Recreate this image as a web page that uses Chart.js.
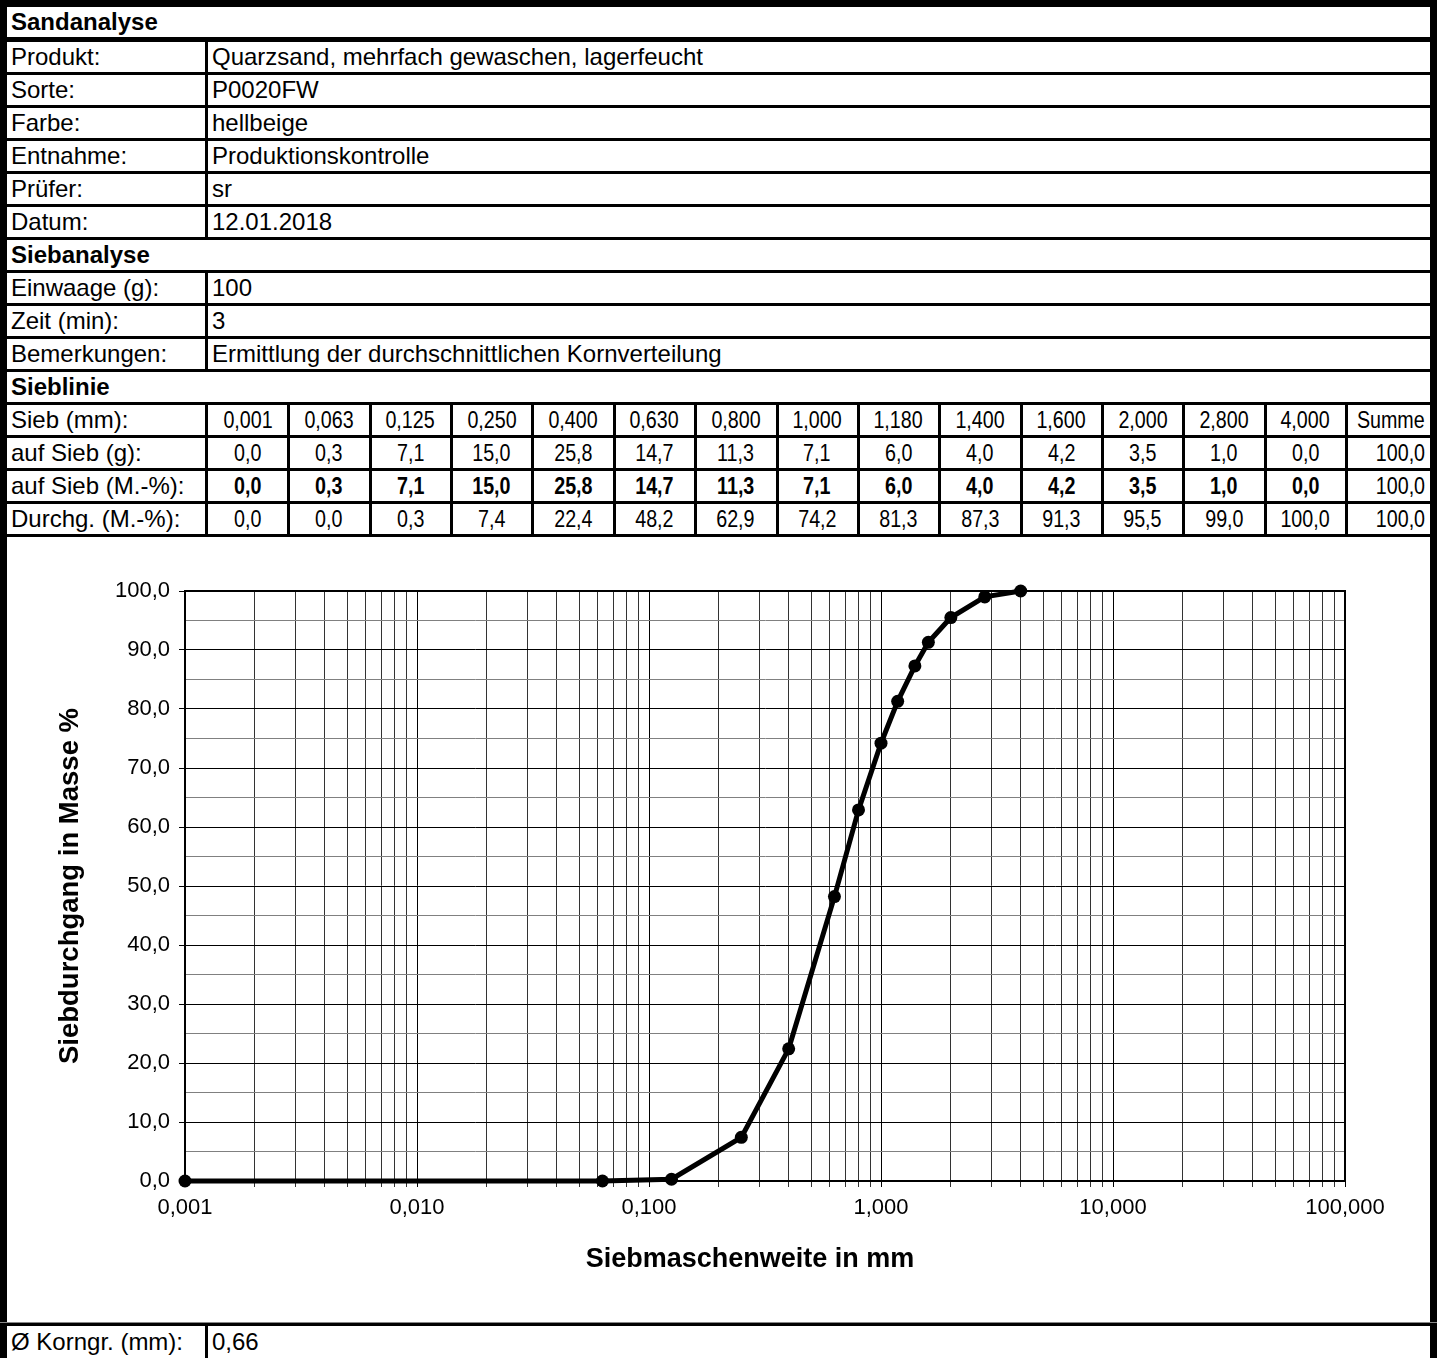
<!DOCTYPE html>
<html><head><meta charset="utf-8">
<script src="https://cdn.jsdelivr.net/npm/chart.js@4"></script>
<style>
body{margin:0;background:#fff;}
#page{position:relative;width:1442px;height:1358px;overflow:hidden;font-family:"Liberation Sans",Arial,sans-serif;font-size:24px;color:#000;background:#fff;}
.ln{position:absolute;background:#000;}
.t{position:absolute;white-space:nowrap;line-height:30px;height:30px;overflow:visible;}
.b{font-weight:bold;}
.n{text-align:center;}
.r{text-align:right;}
.n span{display:inline-block;transform:scaleX(0.82);transform-origin:center center;}
.r span{display:inline-block;transform:scaleX(0.82);transform-origin:right center;}
#chartBox{position:absolute;left:7px;top:537px;width:1423px;height:786px;}
</style></head>
<body><div id="page"><div id="chartBox"><canvas id="c" width="1423" height="786"></canvas></div></div>
<script>
// ---- data ----
const infoLabels = ["Produkt:", "Sorte:", "Farbe:", "Entnahme:", "Prüfer:", "Datum:"];
const infoValues = ["Quarzsand, mehrfach gewaschen, lagerfeucht", "P0020FW", "hellbeige", "Produktionskontrolle", "sr", "12.01.2018"];
const sieveInfoLabels = ["Einwaage (g):", "Zeit (min):", "Bemerkungen:"];
const sieveInfoValues = ["100", "3", "Ermittlung der durchschnittlichen Kornverteilung"];
const sieveLabels = ["0,001","0,063","0,125","0,250","0,400","0,630","0,800","1,000","1,180","1,400","1,600","2,000","2,800","4,000"];
const sieveSizes = [0.001, 0.063, 0.125, 0.250, 0.400, 0.630, 0.800, 1.000, 1.180, 1.400, 1.600, 2.000, 2.800, 4.000];
const retainedG = [0.0, 0.3, 7.1, 15.0, 25.8, 14.7, 11.3, 7.1, 6.0, 4.0, 4.2, 3.5, 1.0, 0.0];
const retainedPct = [0.0, 0.3, 7.1, 15.0, 25.8, 14.7, 11.3, 7.1, 6.0, 4.0, 4.2, 3.5, 1.0, 0.0];
const passing = [0.0, 0.0, 0.3, 7.4, 22.4, 48.2, 62.9, 74.2, 81.3, 87.3, 91.3, 95.5, 99.0, 100.0];
const sumG = 100.0, sumPct = 100.0, sumPassing = 100.0;
const meanGrain = "0,66";
const xMajorTicks = [0.001, 0.01, 0.1, 1, 10, 100];
const xTickLabels = ["0,001", "0,010", "0,100", "1,000", "10,000", "100,000"];
const yMajorTicks = [0, 10, 20, 30, 40, 50, 60, 70, 80, 90, 100];
const yTickLabels = ["0,0", "10,0", "20,0", "30,0", "40,0", "50,0", "60,0", "70,0", "80,0", "90,0", "100,0"];

// ---- table layout ----
const page = document.getElementById('page');
const fmt1 = v => v.toFixed(1).replace('.', ',');
function line(x, y, w, h, col) {
  const d = document.createElement('div'); d.className = 'ln';
  d.style.left = x + 'px'; d.style.top = y + 'px'; d.style.width = w + 'px'; d.style.height = h + 'px';
  if (col) d.style.background = col;
  page.appendChild(d);
}
function text(str, x, y, w, cls) {
  const d = document.createElement('div'); d.className = 't ' + (cls || '');
  d.style.left = x + 'px'; d.style.top = y + 'px';
  if (w) d.style.width = w + 'px';
  if (cls && /(^| )(n|r)( |$)/.test(cls)) { const s = document.createElement('span'); s.textContent = str; d.appendChild(s); }
  else d.textContent = str;
  page.appendChild(d);
}
const L = 7, R = 1430;
const rowTop = i => i === 0 ? 7 : 42 + 33 * (i - 1);
line(0, 0, 7, 1358); line(R, 0, 7, 1358); line(0, 0, 1437, 7);
const headerRows = {0: 'Sandanalyse', 7: 'Siebanalyse', 11: 'Sieblinie'};
for (let i = 0; i < 16; i++) {
  const y = rowTop(i);
  line(0, y + 30, 1437, i === 0 ? 5 : 3);
  if (headerRows[i] !== undefined) { text(headerRows[i], L + 4, y, null, 'b'); }
}
infoLabels.forEach((lab, k) => {
  const y = rowTop(1 + k);
  text(lab, L + 4, y); text(infoValues[k], 212, y);
  line(205, y, 3, 30);
});
sieveInfoLabels.forEach((lab, k) => {
  const y = rowTop(8 + k);
  text(lab, L + 4, y); text(sieveInfoValues[k], 212, y);
  line(205, y, 3, 30);
});
const colW = (1346 - 207) / 14;
const sieveRowLabels = ["Sieb (mm):", "auf Sieb (g):", "auf Sieb (M.-%):", "Durchg. (M.-%):"];
const sieveRows = [sieveLabels, retainedG.map(fmt1), retainedPct.map(fmt1), passing.map(fmt1)];
const sums = ["Summe", fmt1(sumG), fmt1(sumPct), fmt1(sumPassing)];
sieveRows.forEach((vals, r) => {
  const y = rowTop(12 + r);
  text(sieveRowLabels[r], L + 4, y);
  line(205, y, 3, 30);
  vals.forEach((v, k) => {
    const x0 = 208 + colW * k;
    text(v, x0, y, colW - 2, r === 2 ? 'n b' : 'n');
    line(Math.round(x0 + colW) - 2, y, 3, 30);
  });
  text(sums[r], 1300, y, 1425 - 1300, 'r');
});
line(0, 1322, 1437, 1, '#888');
line(0, 1323, 1437, 3);
text("Ø Korngr. (mm):", L + 4, 1327);
text(meanGrain, 212, 1327);
line(205, 1326, 3, 40);

// ---- chart ----
const FONT = '"Liberation Sans", Arial, sans-serif';
const isDecade = v => Math.abs(Math.log10(v) - Math.round(Math.log10(v))) < 1e-9;
const xGridValues = [];
for (let d = 0; d < xMajorTicks.length - 1; d++) {
  for (let k = 1; k <= 9; k++) xGridValues.push(+(k * xMajorTicks[d]).toPrecision(4));
}
xGridValues.push(xMajorTicks[xMajorTicks.length - 1]);

const frame = {
  id: 'frame',
  beforeDatasetsDraw(chart) {
    const a = chart.chartArea, c = chart.ctx;
    c.save(); c.strokeStyle = '#000'; c.lineWidth = 2;
    c.strokeRect(a.left, a.top, a.right - a.left, a.bottom - a.top);
    c.restore();
  }
};

new Chart(document.getElementById('c'), {
  type: 'line',
  data: {
    datasets: [{
      data: sieveSizes.map((s, i) => ({x: s, y: passing[i]})),
      borderColor: '#000', backgroundColor: '#000', borderWidth: 5,
      pointRadius: 6.5, pointHoverRadius: 6.5, pointBackgroundColor: '#000', pointBorderWidth: 0,
      tension: 0, clip: false
    }]
  },
  options: {
    responsive: false, animation: false, devicePixelRatio: 1,
    layout: {padding: {top: 54, right: 85, left: 0, bottom: 0}},
    plugins: {legend: {display: false}, tooltip: {enabled: false}},
    scales: {
      x: {
        type: 'logarithmic', min: 0.001, max: 100,
        afterBuildTicks: s => { s.ticks = xGridValues.map(v => ({value: v})); },
        afterFit: s => { s.height = 142; },
        ticks: {
          autoSkip: false, maxRotation: 0, minRotation: 0, padding: 8, color: '#000',
          font: {family: FONT, size: 22},
          callback: v => { const i = xMajorTicks.findIndex(m => Math.abs(m - v) / m < 1e-6); return i >= 0 ? xTickLabels[i] : ''; }
        },
        grid: {color: c => (c.tick && isDecade(c.tick.value)) ? '#000' : '#333', lineWidth: 1, tickLength: 6},
        border: {display: true, color: '#000', width: 2},
        title: {display: true, text: 'Siebmaschenweite in mm    ', color: '#000', font: {family: FONT, size: 27, weight: 'bold'}, padding: {top: 0, bottom: 47}}
      },
      y: {
        min: 0, max: 100,
        afterFit: s => { s.width = 178; },
        ticks: {
          stepSize: 5, autoSkip: false, padding: 9, color: '#000', font: {family: FONT, size: 22},
          callback: v => { const i = yMajorTicks.indexOf(v); return i >= 0 ? yTickLabels[i] : ''; }
        },
        grid: {
          color: c => (c.tick && c.tick.value % 10 === 0) ? '#000' : '#808080',
          tickColor: c => (c.tick && c.tick.value % 10 === 0) ? '#000' : 'rgba(0,0,0,0)',
          lineWidth: 1, tickLength: 6
        },
        border: {display: true, color: '#000', width: 2},
        title: {display: true, text: 'Siebdurchgang in Masse %', color: '#000', font: {family: FONT, size: 27.5, weight: 'bold'}, padding: {top: 47, bottom: 0}}
      }
    }
  },
  plugins: [frame]
});
</script></body></html>
